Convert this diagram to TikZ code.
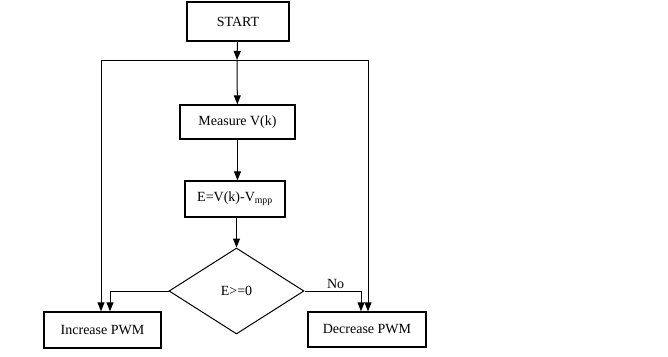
\documentclass[tikz,border=0pt]{standalone}
\usepackage{fontspec}
\setmainfont{Liberation Serif}
\usetikzlibrary{arrows.meta,shapes.geometric}
\tikzset{
  >={Triangle[length=9pt,width=7pt]},
  paso/.style={draw, line width=1.4pt, inner sep=0pt, font=\fontsize{14}{16}\selectfont},
  rombo/.style={draw, diamond, line width=1pt, inner sep=0pt, aspect=1.57,
    minimum width=135pt, minimum height=86pt, font=\fontsize{14}{16}\selectfont},
  linea/.style={line width=1pt},
  flecha/.style={->, line width=1pt},
}

\begin{document}
\begin{tikzpicture}[x=1pt, y=-1pt]
  \useasboundingbox (0,0) rectangle (668,356);
  \node[paso, minimum width=102pt, minimum height=39pt] (start) at (238,21.5) {START};
  \node[paso, minimum width=115pt, minimum height=34pt] (measure) at (237.5,122) {Measure V(k)};
  \node[paso, minimum width=100pt, minimum height=36pt] (err) at (235,199) {E=V(k)-V\textsubscript{mpp}};
  \node[rombo] (test) at (236.5,291) {E>=0};
  \node[paso, minimum width=117pt, minimum height=36pt] (inc) at (102.5,330) {Increase PWM};
  \node[paso, minimum width=118pt, minimum height=35pt] (dec) at (367,329.5) {Decrease PWM};
  \coordinate (jun) at (237,60);
  % main flow
  \draw[flecha] (start) -- (jun);
  \draw[flecha] (jun) -- (measure);
  \draw[flecha] (measure) -- (measure |- err.north);
  \draw[flecha] (err.south -| test.north) -- (test);
  % loop lines
  \draw[linea] (101,60) -- (368,60);
  \draw[flecha] (101,60) -- ([xshift=-1.5pt]inc.north);
  \draw[flecha] (368,60) -- ([xshift=1pt]dec.north);
  % decision branches
  \draw[flecha] (test.west) -| ([xshift=7.5pt]inc.north);
  \draw[flecha] (test.east) -- node[pos=0.55, above, inner sep=2pt, font=\fontsize{14}{16}\selectfont]{No} (361,291) -- ([xshift=-6pt]dec.north);
\end{tikzpicture}
\end{document}
